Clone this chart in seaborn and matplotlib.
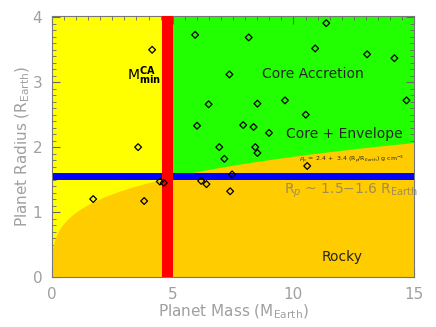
import numpy as np
import pandas as pd
import matplotlib
matplotlib.use("Agg")
import matplotlib.pyplot as plt
import seaborn as sns
from matplotlib.ticker import MultipleLocator

# planets: mass (M_Earth) and radius (R_Earth)
mass = [4.15, 5.93, 6.49, 6.01, 3.57, 6.93, 8.15, 11.36, 10.90, 13.05,
        14.18, 7.35, 8.51, 9.65, 14.68, 10.51, 7.92, 8.35, 8.99, 8.42,
        8.51, 7.14, 10.57, 7.46, 7.38, 1.71, 3.82, 4.47, 4.63, 6.18, 6.40]
radius = [3.50, 3.73, 2.66, 2.33, 2.00, 2.00, 3.69, 3.91, 3.52, 3.43,
          3.37, 3.12, 2.67, 2.72, 2.72, 2.50, 2.34, 2.31, 2.22, 2.00,
          1.91, 1.82, 1.71, 1.58, 1.32, 1.20, 1.17, 1.47, 1.45, 1.48, 1.43]

# density relation printed on the chart: rho_p = 2.4 + 3.4 (Rp/R_Earth) g cm^-3
rho_a, rho_b, rho_earth = 2.4, 3.4, 5.51
m_ca_min = (4.55, 5.02)      # M_min^CA band
r_gap = (1.5, 1.6)           # radius gap band

planets = pd.DataFrame({"mass": mass, "radius": radius})

sns.set_style("ticks")
plt.rcParams["font.family"] = ["DejaVu Sans"]

grey = "#a0a0a0"
fig, ax = plt.subplots(figsize=(4.36, 3.27), dpi=100)
fig.subplots_adjust(left=0.119, right=0.950, top=0.951, bottom=0.153)

ax.axvspan(0, m_ca_min[0], color="#ffff00", lw=0, zorder=0)
ax.axvspan(m_ca_min[0], 15, color="#22ff00", lw=0, zorder=0)

r_curve = np.linspace(0, 2.2, 400)
m_curve = (rho_a + rho_b * r_curve) / rho_earth * r_curve ** 3
ax.fill_betweenx(r_curve, m_curve, 15, color="#ffcc00", lw=0, zorder=1)

ax.axhspan(*r_gap, color="#0000ff", lw=0, zorder=2)
ax.axvspan(*m_ca_min, color="#ff0000", lw=0, zorder=3)

sns.scatterplot(data=planets, x="mass", y="radius", ax=ax, marker="D",
                s=12, facecolor="none", edgecolor="black", linewidth=0.9,
                zorder=5)

ax.text(3.8, 3.1, r"M$_{\mathbf{min}}^{\mathbf{CA}}$", fontsize=10,
        ha="center", va="center", color="black")
ax.text(10.8, 3.12, "Core Accretion", fontsize=10, ha="center", va="center")
ax.text(12.1, 2.21, "Core + Envelope", fontsize=10, ha="center", va="center")
ax.text(12.4, 1.82, r"$\rho_p$ = 2.4 +  3.4 (R$_p$/R$_{Earth}$) g cm$^{-3}$",
        fontsize=4.5, ha="center", va="center")
ax.text(12.4, 1.33, r"R$_p$ ~ 1.5$-$1.6 R$_{\rm Earth}$", fontsize=10,
        ha="center", va="center", color="#a08c55")
ax.text(12.0, 0.31, "Rocky", fontsize=10, ha="center", va="center")

ax.set_xlim(0, 15)
ax.set_ylim(0, 4.02)
ax.xaxis.set_major_locator(MultipleLocator(5))
ax.xaxis.set_minor_locator(MultipleLocator(0.5))
ax.yaxis.set_major_locator(MultipleLocator(1))
ax.yaxis.set_minor_locator(MultipleLocator(0.1))
ax.tick_params(which="both", direction="in", top=True, right=True,
               colors="#666666", labelcolor=grey, labelsize=11)
ax.tick_params(which="major", length=6, width=0.8, pad=7)
ax.tick_params(which="minor", length=3, width=0.6)
for sp in ax.spines.values():
    sp.set_color("#777777")
    sp.set_linewidth(0.8)

ax.set_xlabel(r"Planet Mass (M$_{\rm Earth}$)", color=grey, fontsize=11,
              labelpad=1)
ax.set_ylabel(r"Planet Radius (R$_{\rm Earth}$)", color=grey, fontsize=11,
              labelpad=0)

fig.savefig("out.png", dpi=100)
